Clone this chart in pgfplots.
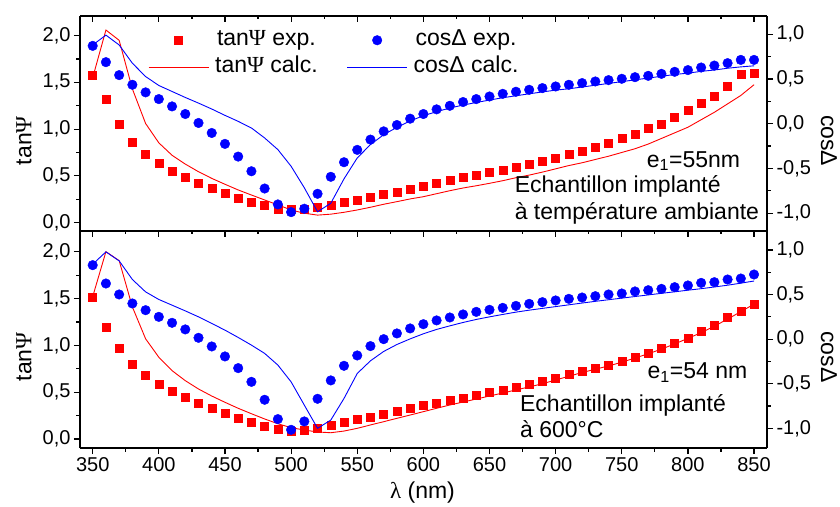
\documentclass[border=0pt]{standalone}
\usepackage{fontspec}
\setmainfont{Liberation Sans}
\newfontfamily\symf{Liberation Serif}
\usepackage{pgfplots}
\usepackage{pgfplotstable}
\pgfplotsset{compat=1.18}
\newcommand{\Psis}{{\symf Ψ}}

\pgfplotstableread{
lam te tc ce cc
350 1.58 1.55 0.87 0.88
360 1.32 2.06 0.688 0.99
370 1.055 1.95 0.543 0.88
380 0.864 1.43 0.435 0.676
390 0.736 1.06 0.35 0.527
400 0.636 0.853 0.275 0.427
410 0.554 0.72 0.193 0.36
420 0.487 0.626 0.108 0.293
430 0.423 0.544 0.008 0.23
440 0.367 0.473 -0.104 0.164
450 0.313 0.41 -0.226 0.093
460 0.263 0.349 -0.368 0.026
470 0.22 0.295 -0.532 -0.048
480 0.181 0.242 -0.725 -0.16
490 0.146 0.189 -0.903 -0.29
500 0.143 0.135 -0.989 -0.476
510 0.143 0.10 -0.951 -0.717
520 0.164 0.08 -0.784 -0.985
530 0.189 0.09 -0.594 -0.89
540 0.213 0.11 -0.431 -0.617
550 0.242 0.135 -0.293 -0.383
560 0.267 0.164 -0.178 -0.234
570 0.302 0.196 -0.086 -0.123
580 0.33 0.224 -0.015 -0.041
590 0.359 0.253 0.056 0.03
600 0.391 0.277 0.108 0.089
610 0.42 0.309 0.16 0.134
620 0.452 0.341 0.2 0.175
630 0.484 0.37 0.242 0.208
640 0.508 0.394 0.275 0.237
650 0.54 0.42 0.304 0.264
660 0.565 0.448 0.334 0.29
670 0.594 0.48 0.357 0.312
680 0.622 0.508 0.379 0.334
690 0.655 0.54 0.398 0.355
700 0.693 0.575 0.416 0.375
710 0.732 0.61 0.435 0.39
720 0.764 0.64 0.454 0.41
730 0.807 0.675 0.472 0.43
740 0.846 0.71 0.487 0.45
750 0.9 0.75 0.502 0.47
760 0.946 0.79 0.52 0.49
770 1.006 0.84 0.535 0.51
780 1.055 0.90 0.557 0.53
790 1.13 0.96 0.58 0.55
800 1.2 1.02 0.599 0.565
810 1.28 1.10 0.628 0.585
820 1.354 1.18 0.65 0.60
830 1.46 1.27 0.677 0.62
840 1.59 1.36 0.713 0.635
850 1.60 1.475 0.713 0.647
}\toptab

\pgfplotstableread{
lam te tc ce cc
350 1.514 1.52 0.83 0.84
360 1.193 2.0 0.624 0.979
370 0.972 1.905 0.501 0.878
380 0.801 1.41 0.4 0.669
390 0.68 1.07 0.325 0.53
400 0.584 0.873 0.25 0.445
410 0.51 0.73 0.183 0.381
420 0.445 0.623 0.109 0.317
430 0.385 0.534 0.015 0.25
440 0.328 0.459 -0.082 0.176
450 0.278 0.392 -0.194 0.101
460 0.224 0.328 -0.325 0.019
470 0.182 0.27 -0.479 -0.067
480 0.142 0.214 -0.68 -0.16
490 0.107 0.163 -0.897 -0.291
500 0.082 0.121 -1.017 -0.479
510 0.089 0.096 -0.923 -0.74
520 0.114 0.075 -0.669 -1.0
530 0.146 0.067 -0.463 -0.908
540 0.178 0.085 -0.299 -0.665
550 0.21 0.114 -0.183 -0.385
560 0.238 0.15 -0.078 -0.243
570 0.27 0.185 0.0 -0.138
580 0.299 0.221 0.064 -0.06
590 0.328 0.256 0.12 0.003
600 0.356 0.292 0.168 0.06
610 0.385 0.328 0.21 0.109
620 0.413 0.363 0.243 0.149
630 0.441 0.395 0.277 0.187
640 0.47 0.427 0.306 0.221
650 0.495 0.459 0.329 0.25
660 0.524 0.491 0.351 0.277
670 0.556 0.524 0.373 0.303
680 0.584 0.556 0.396 0.325
690 0.612 0.59 0.415 0.345
700 0.652 0.63 0.434 0.365
710 0.687 0.67 0.452 0.385
720 0.719 0.71 0.467 0.405
730 0.751 0.745 0.482 0.424
740 0.787 0.78 0.501 0.442
750 0.826 0.82 0.512 0.46
760 0.873 0.865 0.535 0.478
770 0.916 0.91 0.549 0.496
780 0.965 0.96 0.564 0.514
790 1.018 1.015 0.583 0.531
800 1.079 1.075 0.602 0.549
810 1.154 1.135 0.631 0.566
820 1.21 1.205 0.639 0.585
830 1.296 1.28 0.669 0.605
840 1.368 1.36 0.68 0.628
850 1.439 1.44 0.725 0.652
}\bottab

\tikzset{
  sq/.style={only marks, mark=square*, mark size=4pt, red},
  ci/.style={only marks, mark=*, mark size=4.8pt, blue},
  rl/.style={red, line width=0.9pt},
  bl/.style={blue, line width=0.9pt},
  txt/.style={font=\fontsize{23}{27}\selectfont, inner sep=0pt},
}

\pgfplotsset{
  base/.style={scale only axis, width=687pt, xmin=340.4, xmax=859.8,
    axis line style={line width=1.3pt},
    tick style={line width=1.2pt, black},
    major tick length=6pt, minor tick length=3.5pt,
    tick label style={font=\fontsize{20}{24}\selectfont},
    /pgf/number format/assume math mode=true,
    yticklabel style={/pgf/number format/.cd, fixed, fixed zerofill, precision=1, use comma},
  },
  panelT/.style={at={(0pt,217pt)}, anchor=south west, height=215pt},
  panelB/.style={at={(0pt,0pt)}, anchor=south west, height=217pt},
  tanax/.style={axis y line*=left, xtick=\empty, tick align=outside,
    ytick={0,0.5,1,1.5,2}, minor y tick num=1, ylabel={tan\Psis},
    every axis y label/.style={at={(axis description cs:-0.0815,0.42)}, rotate=90, anchor=center, font=\fontsize{23}{27}\selectfont}},
  cosax/.style={axis y line*=right, axis x line=none, tick align=outside,
    ytick={-1,-0.5,0,0.5,1}, minor y tick num=1, ylabel={cosΔ},
    every axis y label/.style={at={(axis description cs:1.090,0.42)}, rotate=-90, anchor=center, font=\fontsize{23}{27}\selectfont}},
  topticks/.style={axis x line*=top, axis y line=none, ymin=0, ymax=1, tick align=inside,
    xtick={350,400,...,850}, minor x tick num=1, xticklabels={}},
}

\begin{document}
\begin{tikzpicture}
% ---------- top panel ----------
\begin{axis}[base, panelT, tanax, ymin=-0.09, ymax=2.21]
\addplot[sq] table[x=lam,y=te]{\toptab};
\addplot[rl, no markers] table[x=lam,y=tc]{\toptab};
\node[txt, anchor=base east] at (axis cs:839.6,0.594) {e\textsubscript{1}=55nm};
\node[txt, anchor=base west] at (axis cs:669,0.327) {Echantillon implanté};
\node[txt, anchor=base west] at (axis cs:669,0.029) {à température ambiante};
\end{axis}
\begin{axis}[base, panelT, cosax, ymin=-1.2, ymax=1.204,
  legend columns=2,
  legend image code/.code={\draw[mark repeat=2,mark phase=2,#1] plot coordinates {(0pt,0pt)(30pt,0pt)(60pt,0pt)};},
  legend style={draw=none, fill=none, inner sep=0pt,
    at={(axis description cs:0.099,0.93)}, anchor=north west,
    font=\fontsize{23}{27}\selectfont, row sep=9.7pt, column sep=0pt,
    /tikz/every odd column/.append style={column sep=4pt},
    /tikz/every even column/.append style={column sep=27pt},
    nodes={inner ysep=0pt, text height=14pt, text depth=4pt}}]
\addlegendimage{sq}\addlegendentry{tan\Psis{} exp.}
\addlegendimage{ci}\addlegendentry{cosΔ exp.}
\addlegendimage{rl, no markers}\addlegendentry{tan\Psis{} calc.}
\addlegendimage{bl, no markers}\addlegendentry{cosΔ calc.}
\addplot[ci, forget plot] table[x=lam,y=ce]{\toptab};
\addplot[bl, no markers, forget plot] table[x=lam,y=cc]{\toptab};
\end{axis}
\begin{axis}[base, panelT, topticks]
\addplot[draw=none, forget plot] coordinates {(400,0.5)};
\end{axis}
% ---------- bottom panel ----------
\begin{axis}[base, panelB, tanax, ymin=-0.096, ymax=2.221]
\addplot[sq] table[x=lam,y=te]{\bottab};
\addplot[rl, no markers] table[x=lam,y=tc]{\bottab};
\node[txt, anchor=base east] at (axis cs:845,0.648) {e\textsubscript{1}=54 nm};
\node[txt, anchor=base west] at (axis cs:673,0.292) {Echantillon implanté};
\node[txt, anchor=base west] at (axis cs:673,0.018) {à 600°C};
\end{axis}
\begin{axis}[base, panelB, cosax, ymin=-1.221, ymax=1.213]
\addplot[ci] table[x=lam,y=ce]{\bottab};
\addplot[bl, no markers] table[x=lam,y=cc]{\bottab};
\end{axis}
\begin{axis}[base, panelB, topticks]
\addplot[draw=none, forget plot] coordinates {(400,0.5)};
\end{axis}
\begin{axis}[base, panelB, axis x line*=bottom, axis y line=none, ymin=0, ymax=1,
  tick align=outside, xtick={350,400,...,850}, minor x tick num=1,
  xlabel={{\symf λ} (nm)},
  every axis x label/.style={at={(axis description cs:0.4985,-0.203)}, anchor=center, font=\fontsize{23}{27}\selectfont}]
\addplot[draw=none, forget plot] coordinates {(400,0.5)};
\end{axis}
\pgfresetboundingbox
\path[use as bounding box] (-80pt,-58pt) rectangle (760pt,448pt);
\end{tikzpicture}
\end{document}
